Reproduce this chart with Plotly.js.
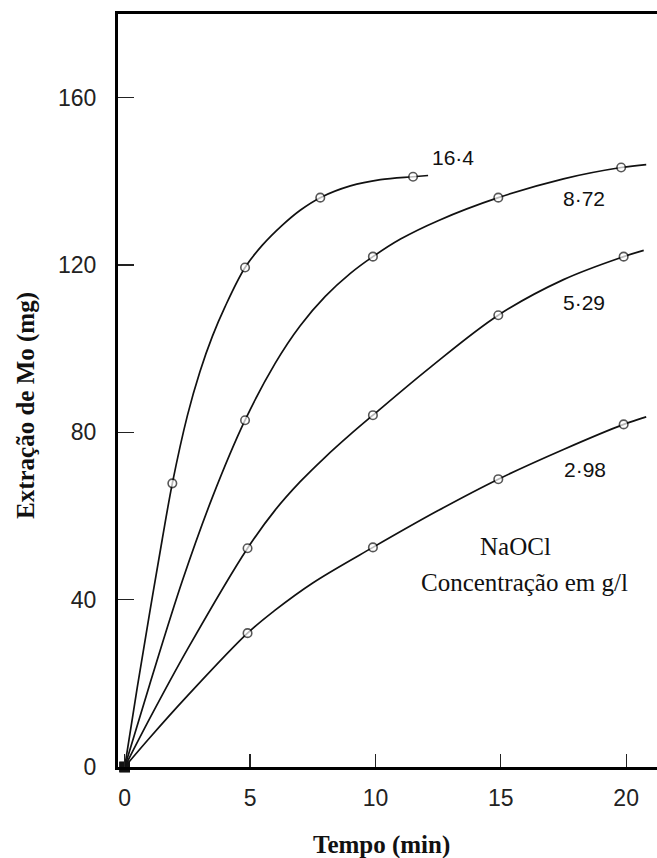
<!DOCTYPE html>
<html>
<head>
<meta charset="utf-8">
<script src="https://cdn.plot.ly/plotly-3.0.1.min.js"></script>
<style>
  html, body { margin: 0; padding: 0; background: #fff; }
  #chart { width: 657px; height: 858px; }
</style>
</head>
<body>
<div id="chart"></div>
<script>
// NaOCl concentration (g/l) for each series
const concentrations = ['16·4', '8·72', '5·29', '2·98'];

// Measured points: time (min) and Mo extracted (mg)
const pts164_t = [0, 1.9, 4.8, 7.8, 11.5];
const pts164_mg = [0, 67.8, 119.4, 136.1, 141.1];
const pts872_t = [0, 4.8, 9.9, 14.9, 19.8];
const pts872_mg = [0, 82.9, 122.0, 136.1, 143.3];
const pts529_t = [0, 4.9, 9.9, 14.9, 19.9];
const pts529_mg = [0, 52.3, 84.1, 108.0, 122.0];
const pts298_t = [0, 4.9, 9.9, 14.9, 19.9];
const pts298_mg = [0, 32.0, 52.5, 68.8, 81.9];

// Smooth curves drawn through the points
const curve164_t = [0, 0.5, 1.0, 1.5, 1.9, 2.5, 3.0, 3.5, 4.0, 4.8, 5.5, 6.3, 7.0, 7.8, 9.0, 10.2, 11.5, 12.1];
const curve164_mg = [0, 19, 37, 54.5, 67.8, 84, 94.5, 103, 110, 119.4, 124.8, 129.6, 133.1, 136.1, 138.9, 140.4, 141.1, 141.4];
const curve872_t = [0, 1.0, 2.3, 3.5, 4.8, 6.0, 7.0, 8.0, 9.0, 9.9, 11.0, 12.5, 14.9, 17.5, 19.8, 20.8];
const curve872_mg = [0, 19.8, 44.5, 64.5, 82.9, 96.5, 105.5, 112.5, 118, 122.0, 126.2, 130.6, 136.1, 140.6, 143.3, 144.0];
const curve529_t = [0, 1.0, 2.5, 4.9, 6.0, 7.0, 8.0, 9.0, 9.9, 12.2, 14.9, 17.5, 19.9, 20.7];
const curve529_mg = [0, 11.6, 28.1, 52.3, 61.4, 68.2, 74.1, 79.5, 84.1, 95.6, 108.0, 116.5, 122.0, 123.5];
const curve298_t = [0, 1.0, 2.5, 4.9, 6.0, 7.5, 9.9, 12.5, 14.9, 17.5, 19.9, 20.8];
const curve298_mg = [0, 7.0, 17.0, 32.0, 37.5, 44.0, 52.5, 61.3, 68.8, 75.9, 81.9, 83.7];

// Axis ticks
const xTicks = [0, 5, 10, 15, 20];
const yTicks = [0, 40, 80, 120, 160];

const curves = [
  [curve164_t, curve164_mg],
  [curve872_t, curve872_mg],
  [curve529_t, curve529_mg],
  [curve298_t, curve298_mg]
];
const points = [
  [pts164_t, pts164_mg],
  [pts872_t, pts872_mg],
  [pts529_t, pts529_mg],
  [pts298_t, pts298_mg]
];

const traces = [];
curves.forEach((c, i) => {
  traces.push({
    x: c[0], y: c[1], type: 'scatter', mode: 'lines',
    name: concentrations[i],
    line: { color: '#111', width: 1.7, shape: 'spline', smoothing: 1 },
    showlegend: false, hoverinfo: 'skip'
  });
});
points.forEach((p, i) => {
  // the starting point at the origin is drawn as a solid dot
  const isOrigin = p[0].map((t, k) => t === 0 && p[1][k] === 0);
  traces.push({
    x: p[0], y: p[1], type: 'scatter', mode: 'markers',
    name: concentrations[i],
    marker: {
      symbol: isOrigin.map(o => (o ? 'square' : 'circle')),
      size: isOrigin.map(o => (o ? 9 : 8.5)),
      color: isOrigin.map(o => (o ? '#111' : '#fff')),
      line: { color: '#111', width: 1.6 }
    },
    cliponaxis: false,
    showlegend: false
  });
});

const serif = 'Liberation Serif, Times New Roman, serif';
const sans = 'Liberation Sans, Arial, sans-serif';

// Curve labels placed at the right end of each line
const labelPos = [[13.1, 145.8], [18.3, 136], [18.3, 111], [18.35, 71]];
const annotations = concentrations.map((c, i) => ({
  x: labelPos[i][0], y: labelPos[i][1], xref: 'x', yref: 'y',
  text: c, showarrow: false,
  font: { family: sans, size: 21, color: '#111' },
  xanchor: 'center', yanchor: 'middle'
}));

annotations.push(
  { x: 15.6, y: 52.6, xref: 'x', yref: 'y', text: 'NaOCl', showarrow: false,
    font: { family: serif, size: 25, color: '#111' }, xanchor: 'center', yanchor: 'middle' },
  { x: 15.93, y: 44, xref: 'x', yref: 'y', text: 'Concentração em g/l', showarrow: false,
    font: { family: serif, size: 25, color: '#111' }, xanchor: 'center', yanchor: 'middle' },
  { x: -0.1707, y: 0.4807, xref: 'paper', yref: 'paper', text: '<b>Extração de Mo (mg)</b>',
    textangle: -90, showarrow: false,
    font: { family: serif, size: 25, color: '#111' }, xanchor: 'center', yanchor: 'middle' },
  { x: 0.488, y: -0.1036, xref: 'paper', yref: 'paper', text: '<b>Tempo (min)</b>',
    showarrow: false,
    font: { family: serif, size: 25, color: '#111' }, xanchor: 'center', yanchor: 'middle' }
);

const layout = {
  width: 657, height: 858,
  margin: { l: 118, r: 0, t: 14, b: 91 },
  paper_bgcolor: '#fff', plot_bgcolor: '#fff',
  showlegend: false,
  xaxis: {
    range: [-0.267, 21.23], tickvals: xTicks, ticktext: xTicks.map(String),
    ticks: 'inside', ticklen: 13, tickwidth: 1.2, tickcolor: '#222',
    showline: true, linecolor: '#000', linewidth: 3, mirror: true,
    showgrid: false, zeroline: false,
    tickfont: { family: sans, size: 23, color: '#222' },
    ticklabelstandoff: 8
  },
  yaxis: {
    range: [0, 180], tickvals: yTicks, ticktext: yTicks.map(String),
    ticks: 'inside', ticklen: 16, tickwidth: 1.2, tickcolor: '#222',
    showline: true, linecolor: '#000', linewidth: 3,
    showgrid: false, zeroline: false,
    tickfont: { family: sans, size: 23, color: '#222' },
    ticklabelstandoff: 14
  },
  annotations: annotations
};

Plotly.newPlot('chart', traces, layout, { staticPlot: true, displayModeBar: false });
</script>
</body>
</html>
